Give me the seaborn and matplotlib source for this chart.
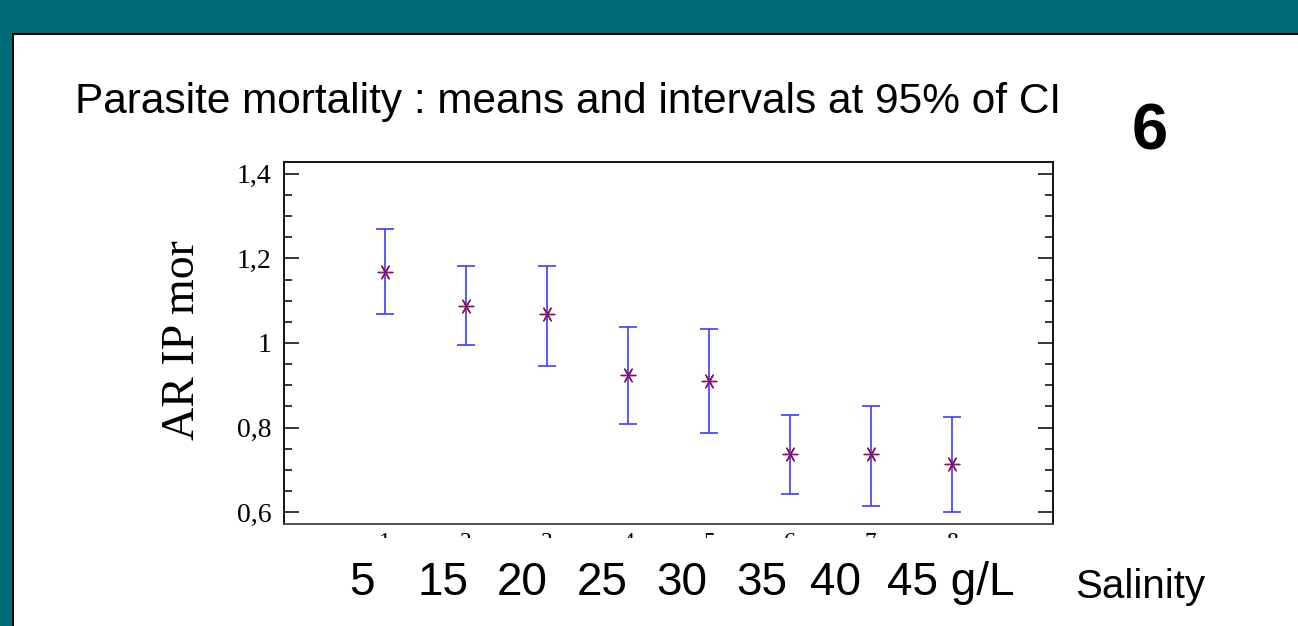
import matplotlib
matplotlib.use("Agg")
import matplotlib.pyplot as plt
from matplotlib.patches import Rectangle
import pandas as pd
import seaborn as sns

# %% Data (means and 95% CI bounds per salinity group)
groups = [1, 2, 3, 4, 5, 6, 7, 8]
group_labels = ["1", "2", "3", "4", "5", "6", "7", "8"]
means = [1.167, 1.088, 1.068, 0.924, 0.910, 0.737, 0.737, 0.715]
lower = [1.068, 0.995, 0.946, 0.808, 0.787, 0.643, 0.614, 0.600]
upper = [1.269, 1.182, 1.182, 1.039, 1.032, 0.830, 0.852, 0.824]
salinity_labels = ["5", "15", "20", "25", "30", "35", "40", "45 g/L"]
y_ticks = [0.6, 0.8, 1.0, 1.2, 1.4]
y_tick_labels = ["0,6", "0,8", "1", "1,2", "1,4"]

df = pd.DataFrame({"group": groups, "mean": means, "lower": lower, "upper": upper})

# %% Style
sns.set_theme(style="ticks")
plt.rcParams["font.family"] = ["Liberation Sans", "DejaVu Sans"]
plt.rcParams["text.color"] = "black"
plt.rcParams["ytick.color"] = "black"
plt.rcParams["xtick.color"] = "black"

W, H = 1298, 626
fig = plt.figure(figsize=(W / 100, H / 100), dpi=100)
fig.patch.set_facecolor("white")

teal = "#006a76"
# slide frame: teal band on top and teal strip on the left
fig.patches.append(Rectangle((0, 1 - 33 / H), 1, 33 / H, transform=fig.transFigure,
                             facecolor=teal, edgecolor="none", zorder=0))
fig.patches.append(Rectangle((0, 0), 12 / W, 1, transform=fig.transFigure,
                             facecolor=teal, edgecolor="none", zorder=0))
fig.patches.append(Rectangle((12 / W, 1 - 35 / H), 1 - 12 / W, 2 / H, transform=fig.transFigure,
                             facecolor="black", edgecolor="none", zorder=0))
fig.patches.append(Rectangle((12 / W, 0), 2 / W, 1 - 33 / H, transform=fig.transFigure,
                             facecolor="black", edgecolor="none", zorder=0))

# axes box in pixels: left 284, right 1053, top 162, bottom 524
ax = fig.add_axes([284 / W, 1 - 524 / H, (1053 - 284) / W, (524 - 162) / H])

# %% Intervals and means
ax.errorbar(df["group"], df["mean"],
            yerr=[df["mean"] - df["lower"], df["upper"] - df["mean"]],
            fmt="none", ecolor="#3d3dff", elinewidth=1.2, capsize=6.5, capthick=1.2, zorder=2)
sns.scatterplot(data=df, x="group", y="mean", ax=ax, marker=(6, 2, 90), s=110,
                color="#8a1464", linewidth=1.0, zorder=3, legend=False)

# %% Axes formatting
ax.set_xlim(-0.25, 9.25)
ax.set_ylim(0.572, 1.428)
ax.set_yticks(y_ticks)
ax.set_yticklabels(y_tick_labels, family=["Liberation Serif", "DejaVu Serif"], fontsize=20)
ax.set_yticks([0.65, 0.7, 0.75, 0.85, 0.9, 0.95, 1.05, 1.1, 1.15, 1.25, 1.3, 1.35], minor=True)
ax.tick_params(axis="y", which="major", direction="in", length=11, width=1.1,
               left=True, right=True, pad=9)
ax.tick_params(axis="y", which="minor", direction="in", length=6, width=1.1,
               left=True, right=True)
ax.set_xticks(groups)
ax.set_xticklabels(group_labels, family=["Liberation Serif", "DejaVu Serif"], fontsize=17)
ax.tick_params(axis="x", length=0, pad=6)
ax.set_xlabel("")
ax.set_ylabel("")
for side in ["left", "right", "top", "bottom"]:
    ax.spines[side].set_visible(True)
    ax.spines[side].set_linewidth(1.3)
    ax.spines[side].set_color("black")
ax.spines["bottom"].set_color("#444444")

# clip the group tick labels like the pasted picture (only their tops remain)
fig.patches.append(Rectangle((14 / W, 0), 1, (H - 538) / H, transform=fig.transFigure,
                             facecolor="white", edgecolor="none", zorder=5))

# %% Slide texts
fig.text(75 / W, 1 - 113 / H, "Parasite mortality : means and intervals at 95% of CI",
         fontsize=30.5, ha="left", va="baseline", zorder=6)
fig.text(1150 / W, 1 - 150 / H, "6", fontsize=47, fontweight="bold",
         ha="center", va="baseline", zorder=6)
fig.text(183 / W, 1 - 340 / H, "AR IP mor", rotation=90, fontsize=33,
         family=["Liberation Serif", "DejaVu Serif"], ha="center", va="center", zorder=6)

# salinity text typed on the slide under the pasted chart (pixel x of each label)
label_x = [362, 443, 522, 602, 682, 762, 836, 887]
for lab, px in zip(salinity_labels, label_x):
    if lab.endswith("g/L"):
        fig.text(px / W, 1 - 595 / H, lab, fontsize=33, ha="left", va="baseline", zorder=6)
    else:
        fig.text(px / W, 1 - 595 / H, lab, fontsize=33, ha="center", va="baseline", zorder=6)
fig.text(1075 / W, 1 - 598 / H, "Salinity", fontsize=29, ha="left", va="baseline", zorder=6)

fig.savefig("out.png", dpi=100, facecolor=fig.get_facecolor())
